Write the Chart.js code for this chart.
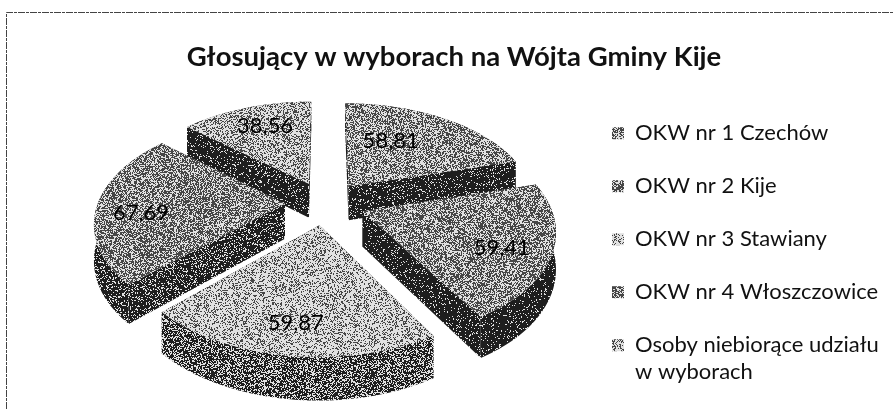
<!DOCTYPE html>
<html><head><meta charset="utf-8">
<style>html,body{margin:0;padding:0;background:#fff}canvas{display:block}</style>
<script src="https://cdn.jsdelivr.net/npm/chart.js@4"></script>
</head><body><canvas id="c" width="894" height="409"></canvas>
<script>
const titleText = 'Głosujący w wyborach na Wójta Gminy Kije';
const categories = ['OKW nr 1 Czechów','OKW nr 2 Kije','OKW nr 3 Stawiany','OKW nr 4 Włoszczowice',['Osoby niebiorące udziału','w wyborach']];
const values = [58.81,59.41,59.87,67.69,38.56];
const topLevels = [0.50,0.46,0.70,0.44,0.62];
const wallLevels = [0.14,0.12,0.38,0.24,0.14];
const labelReach = [0.57,0.76,0.78,0.76,0.73];
const labelTurn = [-10,4,0,-5,2];
const FONT = 'Lato, "Open Sans", sans-serif';
const squash = 0.543, persp = 0.165, depth = 35, shiftX = 25, shiftY = -47;

function stipple(level, seed, dark){
  const n = 160, t = document.createElement('canvas'); t.width = t.height = n;
  const g = t.getContext('2d'), im = g.createImageData(n,n);
  for(let y=0;y<n;y++)for(let x=0;x<n;x++){
    let h = (x*374761393 + y*668265263 + seed*2147483) | 0;
    h = Math.imul(h ^ (h>>>13), 1274126177); h = (h ^ (h>>>16))>>>0;
    const v = (h % 1000)/1000 < level ? 225 : dark, i=(x+y*n)*4;
    im.data[i]=im.data[i+1]=im.data[i+2]=v; im.data[i+3]=255;
  }
  g.putImageData(im,0,0);
  return document.getElementById('c').getContext('2d').createPattern(t,'repeat');
}
const topFill = topLevels.map((l,i)=>stipple(l,i+1,70));
const wallFill = wallLevels.map((l,i)=>stipple(l,i+11,30));

function poly(ctx, pts, fill){
  ctx.beginPath(); pts.forEach((p,i)=> i?ctx.lineTo(p[0],p[1]):ctx.moveTo(p[0],p[1]));
  ctx.closePath(); ctx.fillStyle = fill; ctx.fill();
}
const pie3d = {
  id:'pie3d',
  beforeDraw(chart){
    const c = chart.ctx; c.save(); c.strokeStyle='#444'; c.lineWidth=1; c.setLineDash([7,1,3,1]);
    c.beginPath(); c.moveTo(6.5,409); c.lineTo(6.5,12.5); c.lineTo(894,12.5); c.stroke(); c.restore();
  },
  beforeDatasetDraw(chart,args){
    const c = chart.ctx, arcs = chart.getDatasetMeta(args.index).data;
    const proj = (el,ux,uy,d)=>{
      const w = 1/(1-persp*uy/el.outerRadius);
      return [el.x+shiftX+ux*w, el.y+shiftY+uy*squash*w+d*w];
    };
    const order = arcs.map((el,i)=>{
      const mid=(el.startAngle+el.endAngle)/2, off=el.options.offset;
      return {i,el,mid,ox:off*Math.cos(mid),oy:off*Math.sin(mid)};
    }).sort((a,b)=>a.oy-b.oy);
    for(const s of order){
      const {el,ox,oy,i} = s, R = el.outerRadius, rim=[];
      const steps = 60;
      for(let k=0;k<=steps;k++){
        const a = el.startAngle+(el.endAngle-el.startAngle)*k/steps;
        rim.push([ox+R*Math.cos(a), oy+R*Math.sin(a)]);
      }
      const P=(p,d)=>proj(el,p[0],p[1],d), ap=[ox,oy];
      const faces=[
        [P(ap,0),P(rim[0],0),P(rim[0],depth),P(ap,depth)],
        [P(ap,0),P(rim[steps],0),P(rim[steps],depth),P(ap,depth)],
        rim.map(p=>P(p,0)).concat(rim.slice().reverse().map(p=>P(p,depth)))
      ];
      const meanY=f=>f.reduce((t,p)=>t+p[1],0)/f.length;
      faces.sort((a,b)=>meanY(a)-meanY(b)).forEach(f=>poly(c,f,wallFill[i]));
      poly(c,[P(ap,0)].concat(rim.map(p=>P(p,0))),topFill[i]);
    }
    return false;
  },
  afterDatasetsDraw(chart){
    const c = chart.ctx, arcs = chart.getDatasetMeta(0).data;
    c.save(); c.font='22px '+FONT; c.textAlign='center'; c.textBaseline='middle'; c.fillStyle='#000';
    arcs.forEach((el,i)=>{
      const mid=(el.startAngle+el.endAngle)/2, off=el.options.offset, R=el.outerRadius;
      const a=mid+labelTurn[i]*Math.PI/180;
      const ux=off*Math.cos(mid)+R*labelReach[i]*Math.cos(a), uy=off*Math.sin(mid)+R*labelReach[i]*Math.sin(a);
      const w=1/(1-persp*uy/R);
      c.fillText(values[i].toFixed(2).replace('.',','), el.x+shiftX+ux*w, el.y+shiftY+uy*squash*w);
    });
    c.restore();
  }
};
new Chart(document.getElementById('c'),{
  type:'pie',
  data:{labels:categories,datasets:[{data:values,backgroundColor:topFill,borderWidth:0,offset:40}]},
  options:{
    responsive:false,animation:false,radius:187,
    layout:{padding:{left:19,right:5,top:0,bottom:0}},
    plugins:{
      title:{display:true,text:titleText,color:'#111',font:{family:FONT,size:27.5,weight:'bold'},padding:{top:41,bottom:17}},
      legend:{position:'right',align:'start',maxWidth:308,
        title:{display:true,text:' ',font:{size:1},padding:{top:0,bottom:90}},
        labels:{color:'#111',font:{family:FONT,size:22},boxWidth:12,boxHeight:12,padding:31}},
      tooltip:{enabled:false}
    }
  },
  plugins:[pie3d]
});
</script></body></html>
